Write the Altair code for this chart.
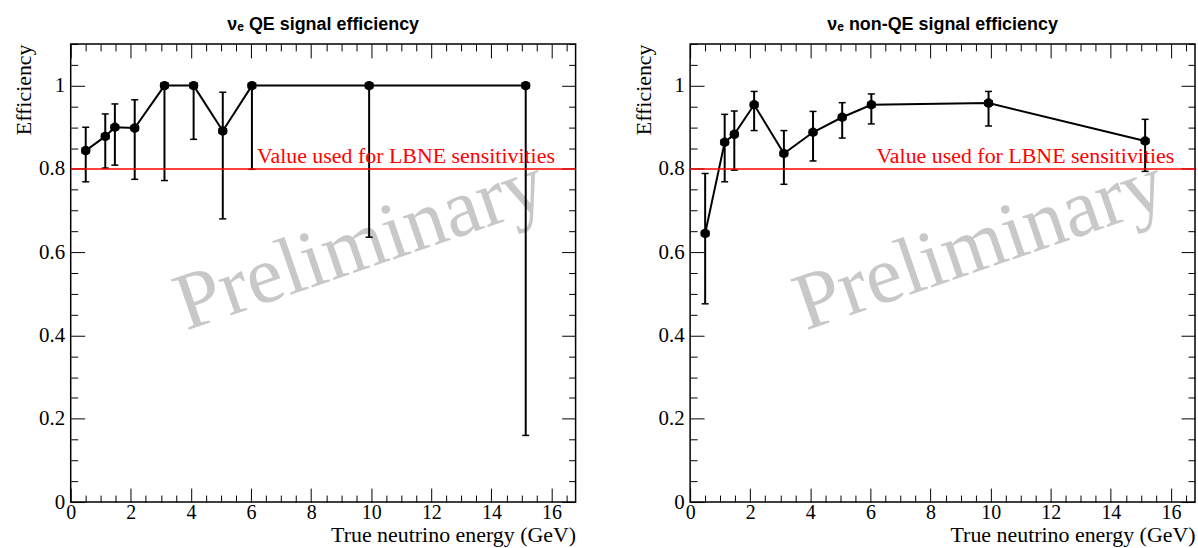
import altair as alt
import pandas as pd

# ---------------- data ----------------
energy = [0.50, 1.15, 1.47, 2.13, 3.12, 4.09, 5.06, 6.03, 9.93, 15.14]
energy_err = [0.12, 0.12, 0.12, 0.12, 0.12, 0.12, 0.12, 0.12, 0.12, 0.12]

qe_eff = [0.844, 0.878, 0.900, 0.898, 1.000, 1.000, 0.891, 1.000, 1.000, 1.000]
qe_low = [0.769, 0.802, 0.809, 0.775, 0.772, 0.871, 0.680, 0.799, 0.636, 0.160]
qe_high = [0.900, 0.932, 0.956, 0.966, 1.000, 1.000, 0.984, 1.000, 1.000, 1.000]

nqe_eff = [0.645, 0.864, 0.883, 0.954, 0.837, 0.888, 0.924, 0.954, 0.958, 0.867]
nqe_low = [0.476, 0.769, 0.797, 0.892, 0.763, 0.819, 0.874, 0.908, 0.903, 0.794]
nqe_high = [0.789, 0.931, 0.939, 0.986, 0.892, 0.938, 0.959, 0.980, 0.986, 0.919]

titles = ["\u03bd\u2091 QE signal efficiency", "\u03bd\u2091 non-QE signal efficiency"]

sens_level = [0.8]
sens_text = ["Value used for LBNE sensitivities"]
sens_text_x = [6.2]
watermark = ["Preliminary"]
watermark_x = [9.9]
watermark_y = [0.562]

x_major = [0, 2, 4, 6, 8, 10, 12, 14, 16]
x_minor = [i * 0.5 for i in range(34)]
y_major = [0, 0.2, 0.4, 0.6, 0.8, 1.0]
y_minor = [round(i * 0.05, 2) for i in range(23)]

# ---------------- layout ----------------
W, H = 507, 460
XMAX, YMAX = 16.8, 1.1
SERIF = "Liberation Serif"


def tick_len(step):
    return {
        "condition": {
            "test": f"abs(datum.value / {step} - round(datum.value / {step})) < 0.001",
            "value": 14,
        },
        "value": 7,
    }


def inside_axis(orient, offset, values, step):
    return alt.Axis(
        orient=orient, offset=offset, values=values, labels=False, domain=False,
        grid=False, title=None, tickSize=tick_len(step), tickColor="black",
        tickWidth=1,
    )


def panel(title, eff, low, high):
    df = pd.DataFrame({
        "E": energy, "Eerr": energy_err, "eff": eff, "lo": low, "hi": high,
    })
    df["Elo"] = df["E"] - df["Eerr"]
    df["Ehi"] = df["E"] + df["Eerr"]

    xs = alt.Scale(domain=[0, XMAX], nice=False, zero=False)
    ys = alt.Scale(domain=[0, YMAX], nice=False, zero=False)

    base = alt.Chart(df)

    x_label_axis = alt.Axis(
        values=x_major, format="d", ticks=False, tickSize=0, domain=False,
        grid=False, labelPadding=1, labelFontSize=20, labelFlush=False,
        labelOverlap=False,
        title="True neutrino energy (GeV)", titleX=W, titleY=40,
        titleAlign="right", titleBaseline="alphabetic",
    )
    y_label_axis = alt.Axis(
        values=y_major, format="~g", ticks=False, tickSize=0, domain=False,
        grid=False, labelPadding=6, labelFlush=False, labelOverlap=False,
        title="Efficiency", titleX=-40, titleY=0, titleAngle=270,
        titleAlign="right", titleBaseline="alphabetic",
    )

    wm = alt.Chart(pd.DataFrame({"t": watermark, "x": watermark_x, "y": watermark_y})).mark_text(
        font=SERIF, fontSize=82, color="#c8c8c8", angle=341, align="center",
        baseline="alphabetic",
    ).encode(
        x=alt.X("x:Q", scale=xs, axis=None), y=alt.Y("y:Q", scale=ys, axis=None),
        text="t:N",
    )

    line = base.mark_line(color="black", strokeWidth=2).encode(
        x=alt.X("E:Q", scale=xs, axis=x_label_axis),
        y=alt.Y("eff:Q", scale=ys, axis=y_label_axis),
    )

    verr = base.mark_rule(color="black", strokeWidth=2).encode(
        x=alt.X("E:Q", scale=xs, axis=inside_axis("bottom", -H, x_minor, 2)),
        y=alt.Y("lo:Q", scale=ys, axis=inside_axis("left", -W, y_minor, 0.2)),
        y2="hi:Q",
    )
    herr = base.mark_rule(color="black", strokeWidth=2).encode(
        x=alt.X("Elo:Q", scale=xs, axis=None), x2="Ehi:Q",
        y=alt.Y("eff:Q", scale=ys, axis=None),
    )
    cap_lo = base.mark_tick(orient="horizontal", size=7, thickness=1.5,
                            color="black", opacity=1).encode(
        x=alt.X("E:Q", scale=xs, axis=None), y=alt.Y("lo:Q", scale=ys, axis=None))
    cap_hi = base.mark_tick(orient="horizontal", size=7, thickness=1.5,
                            color="black", opacity=1).encode(
        x=alt.X("E:Q", scale=xs, axis=None), y=alt.Y("hi:Q", scale=ys, axis=None))
    hcap_lo = base.mark_tick(orient="vertical", size=6, thickness=1.5,
                             color="black", opacity=1).encode(
        x=alt.X("Elo:Q", scale=xs, axis=None), y=alt.Y("eff:Q", scale=ys, axis=None))
    hcap_hi = base.mark_tick(orient="vertical", size=6, thickness=1.5,
                             color="black", opacity=1).encode(
        x=alt.X("Ehi:Q", scale=xs, axis=None), y=alt.Y("eff:Q", scale=ys, axis=None))

    pts = base.mark_point(filled=True, shape="circle", size=90, color="black",
                          opacity=1).encode(
        x=alt.X("E:Q", scale=xs, axis=inside_axis("top", -H, x_minor, 2)),
        y=alt.Y("eff:Q", scale=ys, axis=inside_axis("right", -W, y_minor, 0.2)),
    )

    sens = pd.DataFrame({"lvl": sens_level, "t": sens_text, "x": sens_text_x})
    red_line = alt.Chart(sens).mark_rule(color="#ff0000", strokeWidth=1.5).encode(
        y=alt.Y("lvl:Q", scale=ys, axis=None))
    red_text = alt.Chart(sens).mark_text(
        font=SERIF, fontSize=22, color="#ff0000", align="left",
        baseline="alphabetic", dy=-6,
    ).encode(
        x=alt.X("x:Q", scale=xs, axis=None), y=alt.Y("lvl:Q", scale=ys, axis=None),
        text="t:N",
    )

    return alt.layer(
        wm, line, verr, herr, cap_lo, cap_hi, hcap_lo, hcap_hi, pts, red_line, red_text
    ).resolve_axis(x="independent", y="independent").properties(
        width=W, height=H,
        title=alt.TitleParams(
            text=title, font="Liberation Sans", fontSize=18, fontWeight="bold",
            color="black", anchor="middle", offset=10,
        ),
    )


left = panel(titles[0], qe_eff, qe_low, qe_high)
right = panel(titles[1], nqe_eff, nqe_low, nqe_high)

chart = alt.hconcat(left, right, spacing=115, bounds="flush").properties(
    padding={"left": 12, "top": 13, "right": 1, "bottom": 0},
    background="white",
).configure_axis(
    labelFont=SERIF, labelFontSize=21, labelColor="black",
    titleFont=SERIF, titleFontSize=22, titleFontWeight="normal", titleColor="black",
    grid=False,
).configure_view(stroke="black", strokeWidth=1.5)

chart.save("out.html", embed_options={"renderer": "svg", "actions": False})
